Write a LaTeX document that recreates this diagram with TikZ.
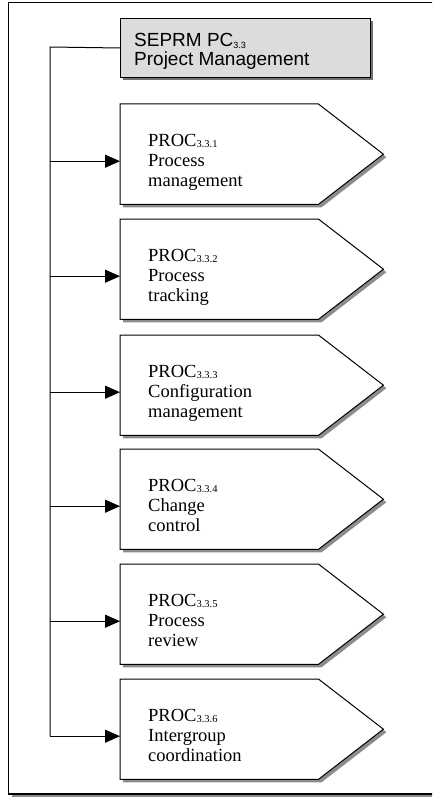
\documentclass[tikz,border=0pt]{standalone}
\usepackage{fontspec}
\setmainfont{Liberation Serif}
\newfontfamily\headfont{Liberation Sans}
\usetikzlibrary{arrows.meta}
\definecolor{headfill}{HTML}{DCDCDC}
\definecolor{headshadow}{HTML}{707070}
\definecolor{boxshadow}{HTML}{8C8C8C}
% small index set just below the baseline
\newcommand\idx[2]{\raisebox{-1.2pt}{\fontsize{#1}{#1}\selectfont #2}}

\begin{document}
\begin{tikzpicture}[x=1pt,y=-1pt,
  frameline/.style={line width=1.2pt},
  wire/.style={line width=1pt},
  link/.style={line width=1pt,-{Triangle[length=15pt,width=13pt]}},
  headbox/.style={draw,line width=1pt,fill=headfill,minimum width=250pt,minimum height=59pt,inner sep=0pt,anchor=north west},
  headtext/.style={anchor=north west,align=left,inner sep=0pt,font=\headfont\fontsize{19}{19}\selectfont},
  procbox/.style={draw=none,minimum width=263pt,minimum height=100pt,inner sep=0pt,anchor=north west},
  proctext/.style={anchor=north west,align=left,inner sep=0pt,font=\fontsize{18.5}{20}\selectfont},
]
\clip (0,0) rectangle (432,797);

% outer frame, open to the right
\fill[boxshadow] (11.5,794.5) rectangle (440,797.5);
\draw[frameline] (440,2.5) -- (8.5,2.5) -- (8.5,794) -- (440,794);

% process-category header
\coordinate (spine) at (50,47);
\fill[headshadow] (123,21) rectangle (373,80);
\node[headbox] (head) at (120,18) {};
\node[headtext] (headlbl) at (134,33.4) {SEPRM PC\idx{9}{3.3}\\Project Management};

% processes
\foreach \i/\top/\txt in {1/104/{Process\\management},
                          2/219/{Process\\tracking},
                          3/335/{Configuration\\management},
                          4/449/{Change\\control},
                          5/564/{Process\\review},
                          6/679/{Intergroup\\coordination}}{
  \node[procbox] (p\i) at (120,\top) {};
  \fill[boxshadow] ([shift={(3pt,-3pt)}]p\i.north west) -- ([shift={(-62pt,-3pt)}]p\i.north east)
     -- ([shift={(3pt,-3pt)}]p\i.east) -- ([shift={(-62pt,-3pt)}]p\i.south east)
     -- ([shift={(3pt,-3pt)}]p\i.south west) -- cycle;
  \draw[wire,fill=white] (p\i.north west) -- ([xshift=-65pt]p\i.north east) -- (p\i.east)
     -- ([xshift=-65pt]p\i.south east) -- (p\i.south west) -- cycle;
  \node[proctext] (t\i) at (148,\top+29.8) {PROC\idx{10.5}{3.3.\i}\\\txt};
  \coordinate (a\i) at ([yshift=-7pt]p\i.west);
  \draw[link] (spine |- a\i) -- (a\i);
}

% spine from the header down to the last process
\draw[wire] (head.west) -- (spine) -- (spine |- a6);
\end{tikzpicture}
\end{document}
